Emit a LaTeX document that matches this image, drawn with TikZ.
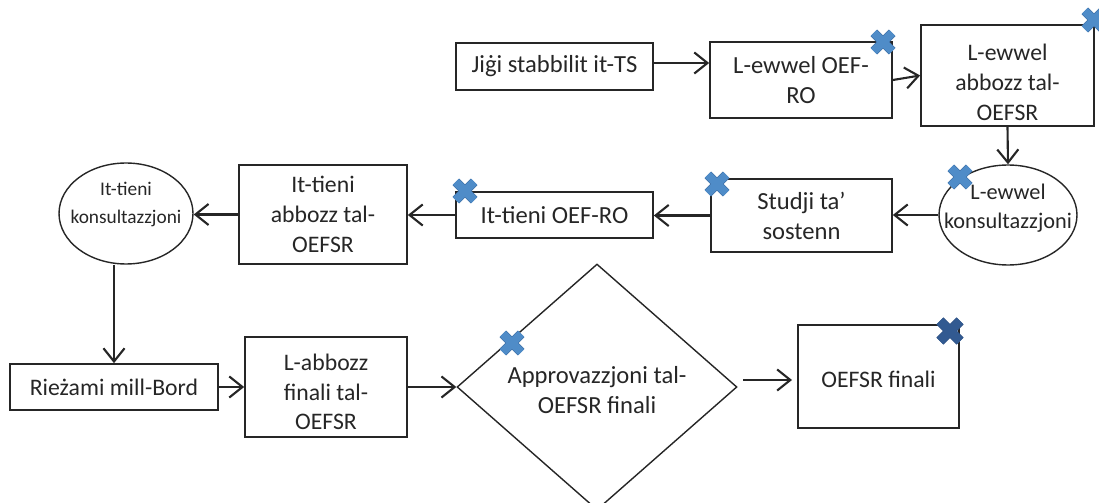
\documentclass[tikz,border=0pt]{standalone}
\usepackage{fontspec}
\setmainfont{Carlito}
\usetikzlibrary{shapes.geometric,shapes.misc,arrows.meta}
\definecolor{crossblue}{RGB}{79,140,200}
\definecolor{crossedge}{RGB}{65,115,170}
\definecolor{crossdark}{RGB}{50,90,145}
\definecolor{crossdarkedge}{RGB}{45,80,130}
\newcommand{\zeroline}[1]{\makebox[0pt]{#1}}
\tikzset{
	stagebox/.style={draw=black!85, text=black!85, line width=1pt, align=center, inner sep=1pt, font=\fontsize{14}{17}\selectfont},
	smallbox/.style={stagebox, font=\fontsize{13.5}{17}\selectfont},
	stageround/.style={stagebox, ellipse, line width=0.8pt},
	stagediamond/.style={stagebox, diamond, line width=0.8pt},
	flow/.style={draw=black!85, line width=1.2pt, -{Straight Barb[length=7.5pt,width=12pt,line width=1.2pt]}},
	bluecross/.style={cross out, draw=crossedge, double=crossblue, line width=0.4pt, double distance=4.6pt, minimum size=10pt, inner sep=0pt},
	darkcross/.style={bluecross, draw=crossdarkedge, double=crossdark, double distance=5pt, minimum size=11pt}
}
\begin{document}
\begin{tikzpicture}[x=0.02cm,y=-0.02cm]
		\useasboundingbox (0,0) rectangle (1099,503);
		\clip (0,0) rectangle (1099,503);
		% top row
		\node[stagebox, minimum width=3.94cm, minimum height=0.94cm] (jigi) at (554.5,66.5) {Jiġi stabbilit it-TS};
		\node[stagebox, minimum width=3.64cm, minimum height=1.52cm] (oefone) at (801,80) {L-ewwel OEF-\\RO};
		\node[smallbox, minimum width=3.46cm, minimum height=2.02cm] (draftone) at (1007.5,75.5) {\rule{0pt}{17pt}L-ewwel\\abbozz tal-\\OEFSR};
		% middle row
		\node[stageround, minimum width=2.76cm, minimum height=2cm, font=\fontsize{12.7}{16}\selectfont] (consultone) at (1008,215) {\zeroline{L-ewwel}\\\zeroline{konsultazzjoni}\rule[-10pt]{0pt}{10pt}};
		\node[stagebox, minimum width=3.62cm, minimum height=1.46cm] (studies) at (801.5,215.5) {Studji ta’\\sostenn};
		\node[stagebox, minimum width=3.94cm, minimum height=0.92cm] (oeftwo) at (554.5,215) {It-tieni OEF-RO};
		\node[smallbox, minimum width=3.36cm, minimum height=1.98cm] (drafttwo) at (323,214.5) {It-tieni\\abbozz tal-\\OEFSR};
		\node[stageround, minimum width=2.68cm, minimum height=2.02cm, font=\fontsize{11}{16}\selectfont] (consulttwo) at (126,213.5) {\zeroline{It-tieni}\\\zeroline{konsultazzjoni}\rule[-12pt]{0pt}{12pt}};
		% bottom row
		\node[smallbox, minimum width=4.16cm, minimum height=0.92cm] (review) at (114,387) {Rieżami mill-Bord};
		\node[smallbox, minimum width=3.24cm, minimum height=2cm] (draftfinal) at (326,387) {\rule{0pt}{15pt}L-abbozz\\finali tal-\\OEFSR};
		\node[stagediamond, minimum width=5.6cm, minimum height=4.92cm] (approval) at (597,387) {\rule{0pt}{13pt}Approvazzjoni tal-\\OEFSR finali};
		\node[smallbox, minimum width=3.22cm, minimum height=2.06cm] (final) at (878.5,376.5) {\rule{0pt}{13pt}OEFSR finali};
		% free ends
		\coordinate (jigiout) at ([yshift=2pt]jigi.east);
		\coordinate (approvalout) at (743,380);
		\coordinate (finalin) at (792,380);
		% connectors
		\draw[flow] (jigiout) -- (jigiout -| oefone.west);
		\draw[flow] (oefone.east) -- (draftone.west);
		\draw[flow] (draftone.south) -- (consultone.north);
		\draw[flow] (consultone.west) -- (consultone.west -| studies.east);
		\draw[flow] (studies.west) -- (studies.west -| oeftwo.east);
		\draw[flow] (oeftwo.west) -- (oeftwo.west -| drafttwo.east);
		\draw[flow] (drafttwo.west) -- (drafttwo.west -| consulttwo.east);
		\draw[flow] (review.north |- consulttwo.south) -- (review.north);
		\draw[flow] (review.east) -- (draftfinal.west);
		\draw[flow] (draftfinal.east) -- (approval.west);
		\draw[flow] (approvalout) -- (finalin);
		% crosses
		\node[bluecross] (crossa) at (883,42) {};
		\node[bluecross] (crossb) at (1094,20) {};
		\node[bluecross] (crossc) at (960,177) {};
		\node[bluecross] (crossd) at (717,184) {};
		\node[bluecross] (crosse) at (465,191) {};
		\node[bluecross] (crossf) at (512,343) {};
		\node[darkcross] (crossg) at (950,331) {};
		\end{tikzpicture}
\end{document}
